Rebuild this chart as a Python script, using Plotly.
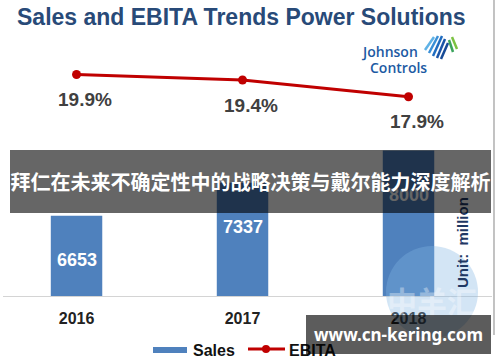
import plotly.graph_objects as go

years = ["2016", "2017", "2018"]
sales = [6653, 7337, 8000]
ebita = [19.9, 19.4, 17.9]
ebita_labels = ["19.9%", "19.4%", "17.9%"]
series_names = ["Sales", "EBITA"]

title_text = "Sales and EBITA Trends Power Solutions"
banner_text = "拜仁在未来不确定性中的战略决策与戴尔能力深度解析"
watermark_text = "www.cn-kering.com"
unit_text = "Unit:  million"

W, H = 500, 362
L, R, T, B = 3, 8, 60, 66
PW, PH = W - L - R, H - T - B
FONT = "Arial, Liberation Sans, sans-serif"
BAR_C = "#4f81bd"
LINE_C = "#c00000"
idx = list(range(len(years)))


def px(x):
    return (x - L) / PW


def py(y):
    return (H - B - y) / PH


def note(x, y, text, font, xanchor="center", yanchor="middle", **kw):
    d = dict(x=px(x), y=py(y), xref="paper", yref="paper", text=text, showarrow=False,
             xanchor=xanchor, yanchor=yanchor, font=font)
    d.update(kw)
    return d


fig = go.Figure()
fig.add_trace(go.Bar(
    x=idx, y=sales, name=series_names[0],
    marker=dict(color=BAR_C, line=dict(width=0)),
    yaxis="y", showlegend=False,
))
fig.add_trace(go.Scatter(
    x=idx, y=ebita, name=series_names[1], mode="lines+markers",
    line=dict(color=LINE_C, width=3),
    marker=dict(color=LINE_C, size=9),
    yaxis="y2", showlegend=False,
))

annotations = []
for i, v, lab in zip(idx, ebita, ebita_labels):
    annotations.append(dict(x=i, y=v, xref="x", yref="y2", text="<b>%s</b>" % lab,
                            showarrow=False, xshift=8, yshift=-25,
                            xanchor="center", yanchor="middle",
                            font=dict(family=FONT, size=19, color="#404040")))
for i, v in zip(idx, sales):
    annotations.append(dict(x=i, y=v, xref="x", yref="y", text="<b>%d</b>" % v,
                            showarrow=False, yshift=-44, xanchor="center", yanchor="middle",
                            font=dict(family=FONT, size=18, color="white")))

annotations += [
    note(15, 17, "<b>%s</b>" % title_text, dict(family=FONT, size=23, color="#284a78"),
         xanchor="left"),
    note(389, 51, "Johnson",
         dict(family="Open Sans, sans-serif", size=14, color="#1c5aa3", weight=600)),
    note(398, 67, "Controls",
         dict(family="Open Sans, sans-serif", size=14, color="#1c5aa3", weight=600)),
    note(432, 300, "<b>中羊汇</b>",
         dict(family="Noto Sans CJK SC", size=30, color="rgba(255,255,255,0.35)")),
    note(463, 243, "<b>%s</b>" % unit_text, dict(family=FONT, size=15, color="#1f3864"),
         textangle=-90),
    # custom legend labels
    note(191, 350, "<b>%s</b>" % series_names[0], dict(family=FONT, size=16, color="#111111"),
         xanchor="left"),
    note(287, 350, "<b>%s</b>" % series_names[1], dict(family=FONT, size=16, color="#111111"),
         xanchor="left"),
    # overlay banner (drawn above bar labels)
    note(250.5, 181.5, "<b>%s</b>" % banner_text,
         dict(family="Noto Sans CJK SC", size=20, color="white"),
         width=481, height=63, bgcolor="rgba(0,0,0,0.6)", borderpad=0, borderwidth=0),
    note(398.5, 334.5, "<b>%s</b>" % watermark_text,
         dict(family="Noto Sans, sans-serif", size=17, color="white"),
         width=185, height=39, bgcolor="rgba(0,0,0,0.64)", borderpad=0, borderwidth=0),
]


def seg(x0, y0, x1, y1, color, width=2.5):
    return dict(type="line", xref="paper", yref="paper", x0=px(x0), y0=py(y0),
                x1=px(x1), y1=py(y1), line=dict(color=color, width=width), layer="above")


shapes = [
    dict(type="circle", xref="paper", yref="paper", x0=px(386), x1=px(478),
         y0=py(338), y1=py(246), fillcolor="rgba(130,180,225,0.35)", line=dict(width=0),
         layer="above"),
    seg(494, 0, 494, 335, "#9a9a9a", 1.2),
    # legend symbols
    dict(type="rect", xref="paper", yref="paper", x0=px(153), x1=px(187),
         y0=py(353), y1=py(347), fillcolor=BAR_C, line=dict(width=0), layer="above"),
    seg(248, 349, 285, 349, LINE_C, 3),
    dict(type="circle", xref="paper", yref="paper", x0=px(262), x1=px(270),
         y0=py(353), y1=py(345), fillcolor=LINE_C, line=dict(width=0), layer="above"),
    # logo stripes
    seg(425, 50, 434, 37, "#5fb2e6"),
    seg(429, 53, 438, 36, "#3a8fd6"),
    seg(433, 56, 442, 36, "#1f6cc0"),
    seg(437, 58, 445, 39, "#1a55a8"),
    seg(441, 59, 448, 43, "#164a96"),
    seg(449, 40, 453, 52, "#3aa35c"),
    seg(452, 37, 457, 49, "#7cc242"),
]

fig.update_layout(
    width=W, height=H, autosize=False,
    margin=dict(l=L, r=R, t=T, b=B, pad=0, autoexpand=False),
    paper_bgcolor="white", plot_bgcolor="white",
    bargap=0.69, showlegend=False,
    xaxis=dict(range=[-0.443, 2.503], showgrid=False, zeroline=False,
               tickmode="array", tickvals=idx, ticktext=["<b>%s</b>" % y for y in years],
               showline=True, linecolor="#d4d4d4", linewidth=1, ticks="",
               ticklabelstandoff=8,
               tickfont=dict(family=FONT, size=16, color="#222222")),
    yaxis=dict(range=[5000, 5000 + PH / 0.0485], visible=False, showgrid=False, zeroline=False),
    yaxis2=dict(range=[0, 21.2], overlaying="y", side="right", visible=False,
                showgrid=False, zeroline=False),
    annotations=annotations, shapes=shapes,
)

fig.write_html("out.html", config={"displayModeBar": False},
               post_script="document.body.style.margin='0';")
